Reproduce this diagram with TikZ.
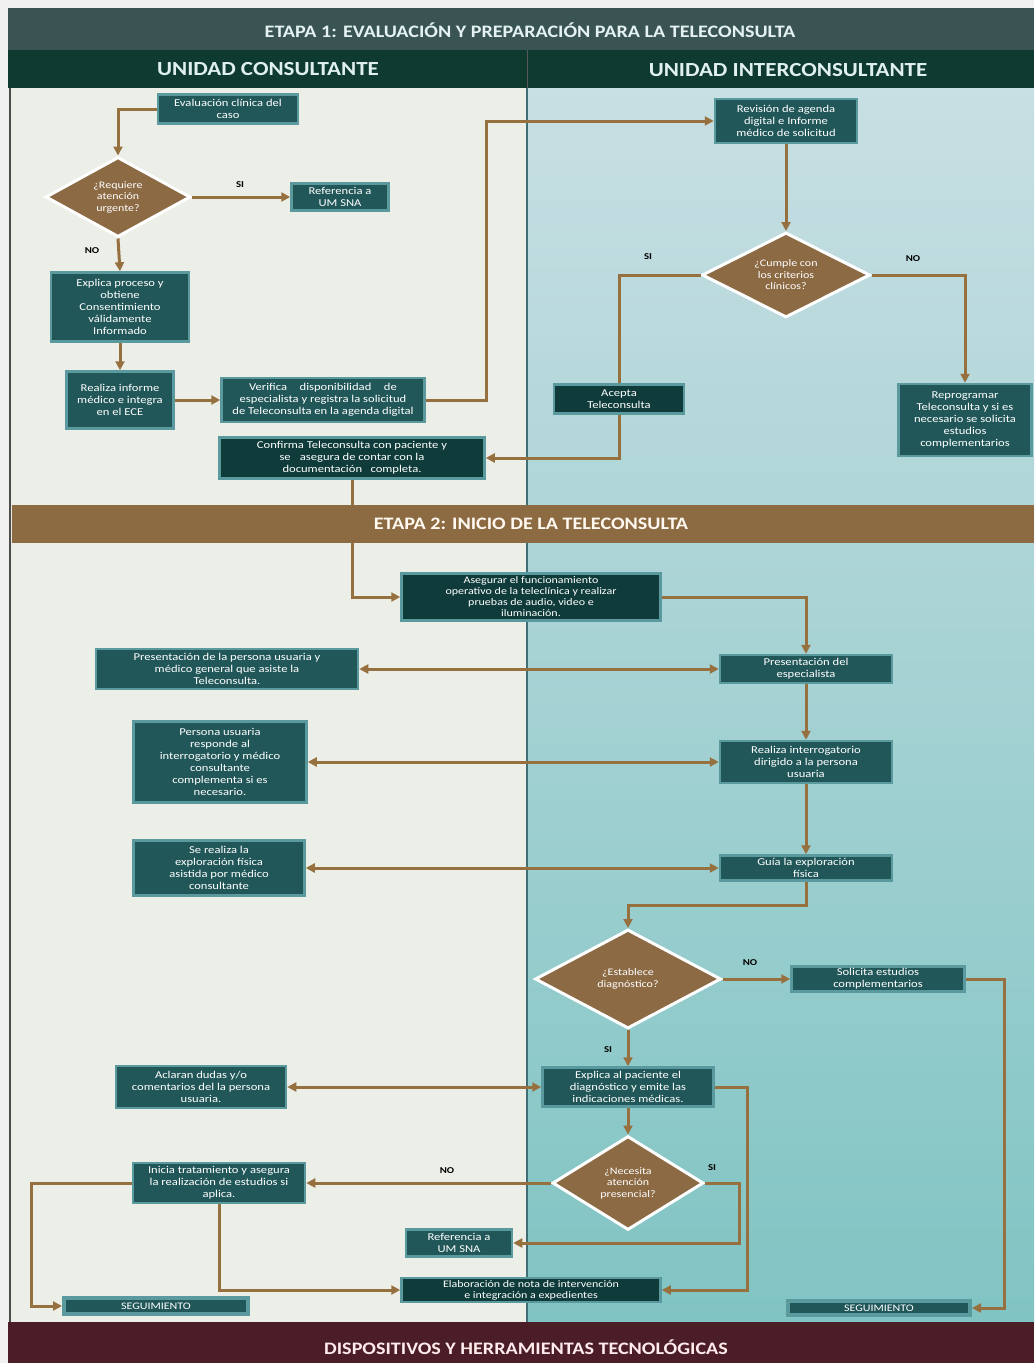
\documentclass[tikz,border=0pt]{standalone}
\usepackage{fontspec}
\newfontfamily\bx{Carlito}[FakeStretch=1.2]
\newfontfamily\hd{Carlito}[FakeStretch=1.15]
\usetikzlibrary{shapes.geometric,arrows.meta,calc}
\definecolor{boxfill}{HTML}{215759}
\definecolor{boxdark}{HTML}{0F3C3B}
\definecolor{boxedge}{HTML}{5A9A9E}
\definecolor{diafill}{HTML}{8C6A44}
\definecolor{arrcol}{HTML}{96703F}
\definecolor{leftbg}{HTML}{ECEEE8}
\definecolor{rtop}{HTML}{C8DFE3}
\definecolor{rbot}{HTML}{80C4C3}
\definecolor{band1}{HTML}{3A5453}
\definecolor{hdrow}{HTML}{0E3A2F}
\definecolor{band2}{HTML}{8D6B42}
\definecolor{band3}{HTML}{4B1E27}
\definecolor{divcol}{HTML}{3F6F75}
\pgfdeclarelayer{bg}
\pgfdeclarelayer{fg}
\pgfsetlayers{bg,main,fg}
\begin{document}
\begin{tikzpicture}[x=1pt,y=-1pt,
  box/.style={draw=boxedge, line width=2.5pt, fill=boxfill, text=white, align=center,
    font=\bx\fontsize{10.5}{12}\selectfont, inner sep=1pt},
  dbox/.style={box, fill=boxdark},
  segbox/.style={box, line width=4pt, fill=boxfill, font=\bx\fontsize{10}{10}\selectfont},
  dia/.style={diamond, draw=white, line width=3pt, fill=diafill, text=white, align=center,
    font=\bx\fontsize{10}{11.5}\selectfont, inner sep=0pt, aspect=1.8},
  arr/.style={draw=arrcol, line width=3pt, -{Triangle[length=9pt,width=9pt]}},
  arrb/.style={draw=arrcol, line width=3pt, {Triangle[length=9pt,width=9pt]}-{Triangle[length=9pt,width=9pt]}},
  ln/.style={draw=arrcol, line width=3pt},
  lbl/.style={font=\bx\bfseries\fontsize{9}{9}\selectfont, text=black, inner sep=0pt},
  bandtxt/.style={font=\hd\bfseries\fontsize{17.5}{17.5}\selectfont, inner sep=0pt}
]
\useasboundingbox (0,0) rectangle (1034,1363);

\begin{pgfonlayer}{bg}
  \fill[white!88!gray] (0,0) rectangle (1034,1363);
  \fill[leftbg] (10,88) rectangle (528,1322);
  \shade[top color=rtop, bottom color=rbot] (528,88) rectangle (1034,1322);
  \fill[band1] (8,8) rectangle (1034,50);
  \fill[hdrow] (8,50) rectangle (1034,88);
  \draw[divcol, line width=1.3pt] (527,88) -- (527,1322);
  \draw[gray!70!black, line width=1pt] (527,50) -- (527,88);
  \draw[black!70, line width=1.5pt] (10,88) -- (10,1322);
  \fill[band3] (8,1322) rectangle (1034,1363);
\end{pgfonlayer}

\node[bandtxt, text=white!90!teal] (t1) at (530,30) {ETAPA 1: EVALUACIÓN Y PREPARACIÓN PARA LA TELECONSULTA};
\node[bandtxt, font=\hd\bfseries\fontsize{20}{20}\selectfont, text=white!88!teal] (hc) at (268,69) {UNIDAD CONSULTANTE};
\node[bandtxt, font=\hd\bfseries\fontsize{20}{20}\selectfont, text=white!88!teal] (hi) at (788,70) {UNIDAD INTERCONSULTANTE};
\node[bandtxt, text=white!92!red] (t3) at (526,1347) {DISPOSITIVOS Y HERRAMIENTAS TECNOLÓGICAS};

% ---------- Stage 1 ----------
\node[box, minimum width=140, minimum height=29] (eval) at (228,109) {Evaluación clínica del\\caso};
\node[dia, minimum width=145, minimum height=80] (d1) at (118,197) {¿Requiere\\atención\\urgente?};
\node[box, minimum width=97, minimum height=27] (ref1) at (340,197) {Referencia a\\UM SNA};
\node[box, minimum width=138, minimum height=69] (explica) at (120,307) {Explica proceso y\\obtiene\\Consentimiento\\válidamente\\Informado};
\node[box, minimum width=107, minimum height=57] (realiza) at (120,400) {Realiza informe\\médico e integra\\en el ECE};
\node[box, minimum width=203, minimum height=44] (verifica) at (323,400) {Verifica\hspace{1.2em}disponibilidad\hspace{1.2em}de\\especialista y registra la solicitud\\de Teleconsulta en la agenda digital};
\node[box, minimum width=142, minimum height=44] (revision) at (786,121) {Revisión de agenda\\digital e Informe\\médico de solicitud};
\node[dia, minimum width=168, minimum height=85] (d2) at (786,275) {¿Cumple con\\los criterios\\clínicos?};
\node[dbox, minimum width=130, minimum height=29] (acepta) at (619,399) {Acepta\\Teleconsulta};
\node[box, minimum width=133, minimum height=72] (reprog) at (965,420) {Reprogramar\\Teleconsulta y si es\\necesario se solicita\\estudios\\complementarios};
\node[dbox, minimum width=265, minimum height=41] (confirma) at (352,458) {Confirma Teleconsulta con paciente y\\se\hspace{0.6em} asegura de contar con la\\documentación\hspace{0.8em}completa.};

\draw[arr] (eval.west) -| (d1.north);
\draw[arr] (d1.east) -- (ref1.west);
\draw[arr] (d1.south) -- (explica.north);
\draw[arr] (explica.south) -- (realiza.north);
\draw[arr] (realiza.east) -- (verifica.west);
\draw[arr] (verifica.east) -- ++(61,0) |- (revision.west);
\draw[arr] (revision.south) -- (d2.north);
\draw[ln] (d2.west) -| (acepta.north);
\draw[arr] (acepta.south) |- (confirma.east);
\draw[arr] (d2.east) -| (reprog.north);

\node[lbl] (lsi1) at (240,185) {SI};
\node[lbl] (lno1) at (92,251) {NO};
\node[lbl] (lsi2) at (648,257) {SI};
\node[lbl] (lno2) at (913,259) {NO};

% ---------- Stage 2 ----------
\node[dbox, minimum width=259, minimum height=47, font=\bx\fontsize{10}{11}\selectfont] (asegurar) at (531,597) {Asegurar el funcionamiento\\operativo de la teleclínica y realizar\\pruebas de audio, video e\\iluminación.};
\node[box, minimum width=262, minimum height=40] (presU) at (227,669) {Presentación de la persona usuaria y\\médico general que asiste la\\Teleconsulta.};
\node[box, minimum width=172, minimum height=28] (presE) at (806,669) {Presentación del\\especialista};
\node[box, minimum width=173, minimum height=81] (persona) at (220,762) {Persona usuaria\\responde al\\interrogatorio y médico\\consultante\\complementa si es\\necesario.};
\node[box, minimum width=172, minimum height=42] (interrog) at (806,762) {Realiza interrogatorio\\dirigido a la persona\\usuaria};
\node[box, minimum width=171, minimum height=55] (explor) at (219,868) {Se realiza la\\exploración física\\asistida por médico\\consultante};
\node[box, minimum width=172, minimum height=25] (guia) at (806,868) {Guía la exploración\\física};
\node[dia, minimum width=186, minimum height=99] (d3) at (628,979) {¿Establece\\diagnóstico?};
\node[box, minimum width=173, minimum height=25] (solicita) at (878,979) {Solicita estudios\\complementarios};
\node[box, minimum width=171, minimum height=39] (explica2) at (628,1087) {Explica al paciente el\\diagnóstico y emite las\\indicaciones médicas.};
\node[box, minimum width=170, minimum height=42] (aclaran) at (201,1087) {Aclaran dudas y/o\\comentarios del la persona\\usuaria.};
\node[dia, minimum width=151, minimum height=94] (d4) at (628,1183) {¿Necesita\\atención\\presencial?};
\node[box, minimum width=172, minimum height=40] (inicia) at (219,1183) {Inicia tratamiento y asegura\\la realización de estudios si\\aplica.};
\node[box, minimum width=106, minimum height=27] (ref2) at (459,1243) {Referencia a\\UM SNA};
\node[dbox, minimum width=259, minimum height=24, font=\bx\fontsize{10}{11}\selectfont] (nota) at (531,1290) {Elaboración de nota de intervención\\e integración a expedientes};
\node[segbox, minimum width=184, minimum height=16] (seg1) at (156,1306) {SEGUIMIENTO};
\node[segbox, minimum width=182, minimum height=14] (seg2) at (879,1308) {SEGUIMIENTO};

\draw[arr] (confirma.south) |- (asegurar.west);
\draw[arr] (asegurar.east) -| (presE.north);
\draw[arrb] (presU.east) -- (presE.west);
\draw[arr] (presE.south) -- (interrog.north);
\draw[arrb] (persona.east) -- (interrog.west);
\draw[arr] (interrog.south) -- (guia.north);
\draw[arrb] (explor.east) -- (guia.west);
\draw[arr] (guia.south) -- ++(0,24) -| (d3.north);
\draw[arr] (d3.east) -- (solicita.west);
\draw[arr] (solicita.east) -- ++(39,0) |- (seg2.east);
\draw[arr] (d3.south) -- (explica2.north);
\draw[arrb] (aclaran.east) -- (explica2.west);
\draw[arr] (explica2.south) -- (d4.north);
\draw[arr] (explica2.east) -- ++(33,0) |- (nota.east);
\draw[arr] (d4.west) -- (inicia.east);
\draw[arr] (d4.east) -- ++(34,0) |- (ref2.east);
\draw[arr] (inicia.west) -- ++(-100,0) |- (seg1.west);
\draw[arr] (inicia.south) |- (nota.west);

\node[lbl] (lno3) at (750,963) {NO};
\node[lbl] (lsi3) at (608,1050) {SI};
\node[lbl] (lno4) at (447,1171) {NO};
\node[lbl] (lsi4) at (712,1168) {SI};

\begin{pgfonlayer}{fg}
  \fill[band2] (12,505) rectangle (1034,543);
  \node[bandtxt, text=white!95!orange] (t2) at (531,524) {ETAPA 2: INICIO DE LA TELECONSULTA};
\end{pgfonlayer}
\end{tikzpicture}
\end{document}
